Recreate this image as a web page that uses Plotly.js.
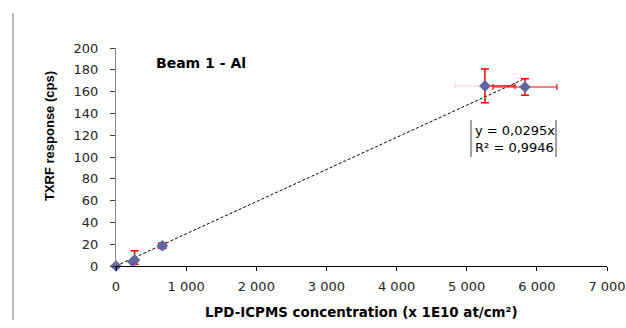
<!DOCTYPE html>
<html>
<head>
<meta charset="utf-8">
<script src="https://cdn.plot.ly/plotly-3.0.1.min.js"></script>
<style>
html,body{margin:0;padding:0;background:#fff;}
#chart{width:626px;height:328px;}
</style>
</head>
<body>
<div id="chart"></div>
<script>
// Data
const concentration = [0, 240, 265, 660, 5260, 5830];
const response      = [0, 4, 5.5, 18.6, 165.2, 164.2];
const yErrPlus      = [0, 0, 8.5, 2.5, 15.5, 7.5];
const yErrMinus     = [0, 0, 4, 2.5, 15.5, 7.5];
const xErrPlus      = [0, 0, 0, 50, 428, 456];
const xErrMinus     = [0, 0, 0, 50, 0, 456];
// faint left x-error of the 5260 point
const faintX = [5260];
const faintY = [165.2];
const faintXErr = [428];

const slope = 0.0295;
const trendX = [0, 5800];
const trendY = trendX.map(v => v * slope);

const xTickVals = [0, 1000, 2000, 3000, 4000, 5000, 6000, 7000];
const xTickText = ['0', '1 000', '2 000', '3 000', '4 000', '5 000', '6 000', '7 000'];
const yTickVals = [0, 20, 40, 60, 80, 100, 120, 140, 160, 180, 200];

const chartTitle = 'Beam 1 - Al';
const eqLines = ['y = 0,0295x', 'R² = 0,9946'];

const markerColor = 'rgb(98,102,160)';

const traces = [
  {
    x: trendX, y: trendY, mode: 'lines', type: 'scatter',
    line: {color: '#000', width: 1, dash: '3px,2px'},
    hoverinfo: 'skip', showlegend: false
  },
  {
    x: faintX, y: faintY, mode: 'markers', type: 'scatter',
    marker: {size: 1, color: 'rgba(0,0,0,0)'},
    error_x: {type: 'data', symmetric: false, array: [0], arrayminus: faintXErr,
              color: '#fbd0d0', thickness: 1, width: 3},
    showlegend: false, hoverinfo: 'skip'
  },
  {
    x: concentration, y: response, mode: 'markers', type: 'scatter',
    marker: {symbol: 'diamond', size: 9, color: markerColor},
    error_y: {type: 'data', symmetric: false, array: yErrPlus, arrayminus: yErrMinus,
              color: '#ff0000', thickness: 1.5, width: 4},
    error_x: {type: 'data', symmetric: false, array: xErrPlus, arrayminus: xErrMinus,
              color: '#ff0000', thickness: 1.2, width: 3},
    cliponaxis: false,
    showlegend: false
  }
];

const L = 116, R = 19, T = 48, B = 62;
const W = 626 - L - R, H = 328 - T - B;
const px = v => (v - L) / W;
const py = v => (328 - B - v) / H;

const layout = {
  width: 626, height: 328,
  margin: {l: L, r: R, t: T, b: B, pad: 0},
  paper_bgcolor: '#fff', plot_bgcolor: '#fff',
  showlegend: false,
  xaxis: {
    range: [0, 7000], tickvals: xTickVals, ticktext: xTickText,
    showgrid: false, zeroline: false,
    showline: true, linecolor: '#000', linewidth: 1,
    ticks: 'outside', ticklen: 4, tickcolor: '#000', tickwidth: 1,
    tickfont: {family: 'DejaVu Sans', size: 13, color: '#262626'},
    ticklabelstandoff: 4,
    fixedrange: true
  },
  yaxis: {
    range: [0, 200], tickvals: yTickVals,
    showgrid: false, zeroline: false,
    showline: true, linecolor: '#868686', linewidth: 1,
    ticks: 'outside', ticklen: 5, tickcolor: '#404040', tickwidth: 1,
    tickfont: {family: 'DejaVu Sans', size: 13, color: '#262626'},
    ticklabelstandoff: 9,
    fixedrange: true
  },
  annotations: [
    {text: '<b>' + chartTitle + '</b>', xref: 'paper', yref: 'paper',
     x: px(154), y: py(63), xanchor: 'left', yanchor: 'middle', showarrow: false,
     font: {family: 'DejaVu Sans', size: 14, color: '#000'}},
    {text: '<b>TXRF response (cps)</b>', xref: 'paper', yref: 'paper',
     x: px(49), y: py(136), xanchor: 'center', yanchor: 'middle', textangle: -90, showarrow: false,
     font: {family: 'Liberation Sans', size: 13, color: '#000'}},
    {text: '<b>LPD-ICPMS concentration (x 1E10 at/cm²)</b>', xref: 'paper', yref: 'paper',
     x: px(361.5), y: py(312), xanchor: 'center', yanchor: 'middle', showarrow: false,
     font: {family: 'DejaVu Sans', size: 13.4, color: '#000'}},
    {text: eqLines.join('<br>'), xref: 'paper', yref: 'paper',
     x: px(473), y: py(138.5), xanchor: 'left', yanchor: 'middle', align: 'left', showarrow: false,
     font: {family: 'DejaVu Sans', size: 13, color: '#000'}}
  ],
  shapes: [
    {type: 'line', xref: 'paper', yref: 'paper', x0: px(471), x1: px(471), y0: py(120), y1: py(157),
     line: {color: '#404040', width: 1}},
    {type: 'line', xref: 'paper', yref: 'paper', x0: px(556), x1: px(556), y0: py(120), y1: py(157),
     line: {color: '#404040', width: 1}},
    {type: 'line', xref: 'paper', yref: 'paper', x0: px(13), x1: px(13), y0: py(13), y1: py(320),
     line: {color: '#7f7f7f', width: 1}}
  ]
};

Plotly.newPlot('chart', traces, layout, {displayModeBar: false, staticPlot: true});
</script>
</body>
</html>
